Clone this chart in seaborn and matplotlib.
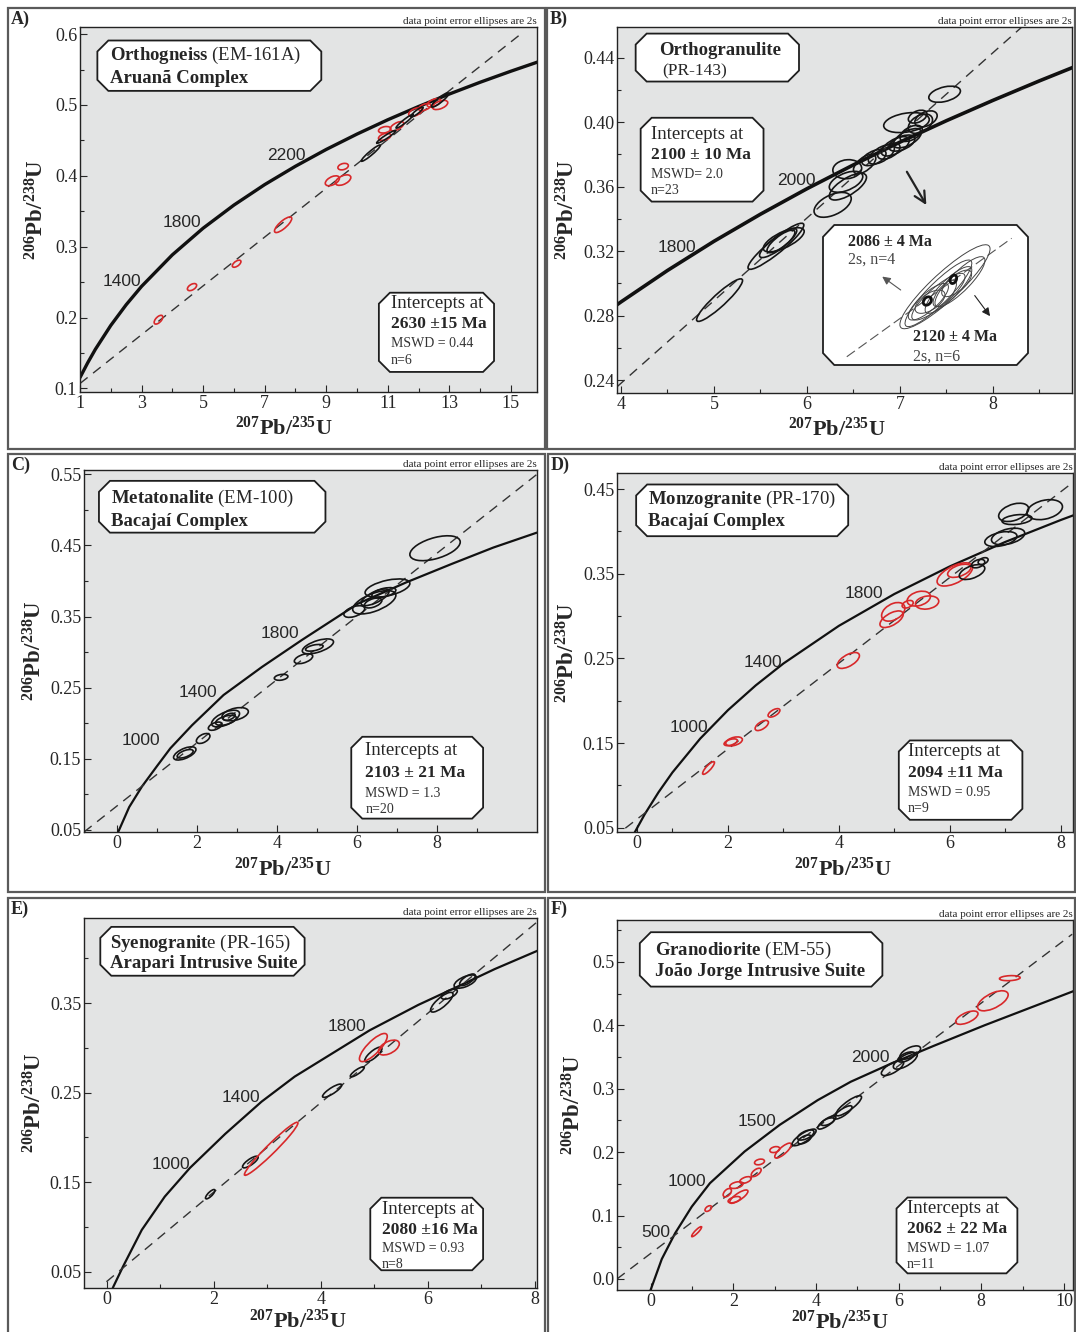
import numpy as np
import matplotlib
matplotlib.use("Agg")
import matplotlib.pyplot as plt
from matplotlib.patches import Ellipse, Polygon, Rectangle
import seaborn as sns

sns.set_theme(style="white")
plt.rcParams["font.family"] = ["Liberation Serif", "DejaVu Serif"]
plt.rcParams["mathtext.fontset"] = "custom"
plt.rcParams["mathtext.rm"] = "Liberation Serif"
plt.rcParams["mathtext.bf"] = "Liberation Serif:bold"
plt.rcParams["mathtext.default"] = "regular"

# =====================
# DATA
# =====================
# concordia curves, one per panel
a_conc_x = [1.0, 1.25, 1.5, 2, 2.5, 3, 4, 5, 6, 7, 8, 9, 10, 11, 12, 13, 14, 15, 16]
a_conc_y = [0.1154, 0.1362, 0.1553, 0.1889, 0.2181, 0.2440, 0.2885, 0.3261, 0.3587, 0.3876,
            0.4135, 0.4372, 0.4589, 0.4791, 0.4978, 0.5154, 0.5320, 0.5476, 0.5625]
b_conc_x = [3.9, 4, 4.5, 5, 5.5, 6, 6.5, 7, 7.5, 8, 8.5, 9]
b_conc_y = [0.2844, 0.2885, 0.3080, 0.3261, 0.3429, 0.3587, 0.3735, 0.3876, 0.4009, 0.4135, 0.4256, 0.4372]
c_conc_x = [0.0, 0.03, 0.3, 0.62, 1.0, 1.33, 1.87, 2.66, 3.62, 4.62, 6.02, 7.23, 8.37, 9.41, 10.5]
c_conc_y = [0.044, 0.0476, 0.082, 0.111, 0.140, 0.1647, 0.197, 0.2396, 0.279, 0.317, 0.368,
            0.398, 0.424, 0.447, 0.468]
d_conc_x = [0.3, 0.5, 0.75, 1, 1.5, 2, 2.5, 3, 4, 5, 6, 7, 8, 8.3]
d_conc_y = [0.0422, 0.0660, 0.0921, 0.1154, 0.1553, 0.1889, 0.2181, 0.2440, 0.2885, 0.3261,
            0.3587, 0.3876, 0.4135, 0.4208]
e_conc_x = [0.08, 0.12, 0.3, 0.65, 1.08, 1.55, 2.21, 2.89, 3.51, 4.91, 5.82, 6.47, 7.25, 8.07]
e_conc_y = [0.028, 0.0336, 0.056, 0.0968, 0.134, 0.166, 0.204, 0.240, 0.268, 0.3196, 0.348,
            0.366, 0.388, 0.409]
f_conc_x = [-0.01, 0.265, 0.586, 0.99, 1.43, 2.27, 3.12, 4.04, 4.84, 5.79, 6.85, 8.08, 10.25]
f_conc_y = [-0.018, 0.0315, 0.072, 0.114, 0.151, 0.201, 0.243, 0.282, 0.311, 0.3388, 0.3676,
            0.400, 0.4543]

# discordia lines (end points)
a_disc_x, a_disc_y = [1.0, 15.35], [0.107, 0.601]
b_disc_x, b_disc_y = [3.96, 8.35], [0.236, 0.461]
c_disc_x, c_disc_y = [-0.83, 10.5], [0.047, 0.550]
d_disc_x, d_disc_y = [0.15, 8.2], [0.0495, 0.457]
e_disc_x, e_disc_y = [-0.01, 8.03], [0.039, 0.44]
f_disc_x, f_disc_y = [-0.82, 10.2], [0.0, 0.5436]

# analyses: x, y, 2s x, 2s y, rho, group ("in" black, "out" red)
a_ell = [(3.55, 0.197, 0.14, 0.0062, 0.6, "out"), (4.64, 0.243, 0.15, 0.005, 0.5, "out"),
         (6.09, 0.276, 0.14, 0.005, 0.6, "out"), (7.6, 0.331, 0.28, 0.011, 0.8, "out"),
         (9.2, 0.393, 0.23, 0.007, 0.5, "out"), (9.55, 0.394, 0.25, 0.0074, 0.5, "out"),
         (9.55, 0.413, 0.17, 0.0046, 0.3, "out"), (10.9, 0.465, 0.2, 0.0046, 0.3, "out"),
         (10.9, 0.455, 0.2, 0.005, 0.4, "out"), (11.3, 0.47, 0.22, 0.0065, 0.6, "out"),
         (11.9, 0.49, 0.22, 0.006, 0.5, "out"), (12.2, 0.497, 0.2, 0.005, 0.5, "out"),
         (12.5, 0.503, 0.22, 0.006, 0.5, "out"), (12.7, 0.5, 0.25, 0.0065, 0.5, "out"),
         (10.45, 0.432, 0.31, 0.0115, 0.95, "in"), (10.95, 0.455, 0.31, 0.009, 0.95, "in"),
         (11.55, 0.477, 0.28, 0.0097, 0.95, "in"), (11.95, 0.49, 0.2, 0.007, 0.9, "in"),
         (12.7, 0.507, 0.28, 0.01, 0.9, "in")]
b_ell = [(5.06, 0.2896, 0.247, 0.0132, 0.92, "in"), (5.666, 0.323, 0.30, 0.0143, 0.92, "in"),
         (5.69, 0.325, 0.2, 0.009, 0.85, "in"), (5.72, 0.326, 0.15, 0.007, 0.8, "in"),
         (5.75, 0.327, 0.22, 0.0075, 0.7, "in"), (6.276, 0.3487, 0.2, 0.0077, 0.5, "in"),
         (6.42, 0.363, 0.18, 0.0065, 0.5, "in"), (6.44, 0.360, 0.2, 0.0083, 0.7, "in"),
         (6.433, 0.3708, 0.155, 0.0059, 0.1, "in"), (6.62, 0.374, 0.12, 0.006, 0.6, "in"),
         (6.72, 0.378, 0.13, 0.005, 0.5, "in"), (6.80, 0.380, 0.14, 0.006, 0.6, "in"),
         (6.88, 0.382, 0.12, 0.005, 0.5, "in"), (6.95, 0.385, 0.15, 0.006, 0.6, "in"),
         (7.02, 0.387, 0.14, 0.005, 0.5, "in"), (7.08, 0.390, 0.15, 0.006, 0.6, "in"),
         (7.12, 0.393, 0.12, 0.005, 0.5, "in"), (7.07, 0.3997, 0.245, 0.0062, 0.3, "in"),
         (7.22, 0.399, 0.13, 0.006, 0.4, "in"), (7.19, 0.4034, 0.1, 0.004, 0.4, "in"),
         (7.28, 0.402, 0.12, 0.005, 0.4, "in"), (7.48, 0.4173, 0.17, 0.005, 0.4, "in")]
c_ell = [(7.95, 0.446, 0.63, 0.0175, 0.5, "in"), (6.76, 0.390, 0.56, 0.0128, 0.5, "in"),
         (6.43, 0.370, 0.54, 0.0164, 0.6, "in"), (5.93, 0.357, 0.26, 0.0082, 0.5, "in"),
         (6.45, 0.377, 0.35, 0.0117, 0.7, "in"), (6.67, 0.3836, 0.3, 0.007, 0.5, "in"),
         (6.4, 0.369, 0.22, 0.007, 0.5, "in"), (5.02, 0.308, 0.39, 0.0105, 0.6, "in"),
         (4.93, 0.306, 0.22, 0.0047, 0.5, "in"), (4.66, 0.2907, 0.23, 0.007, 0.5, "in"),
         (4.1, 0.2645, 0.17, 0.0042, 0.3, "in"), (2.71, 0.2065, 0.35, 0.0117, 0.6, "in"),
         (2.95, 0.2126, 0.33, 0.0093, 0.4, "in"), (2.72, 0.204, 0.26, 0.007, 0.5, "in"),
         (2.8, 0.209, 0.15, 0.005, 0.5, "in"), (2.45, 0.1958, 0.17, 0.0058, 0.5, "in"),
         (2.15, 0.1785, 0.17, 0.007, 0.5, "in"), (1.69, 0.1575, 0.28, 0.0093, 0.6, "in"),
         (1.7, 0.157, 0.2, 0.006, 0.6, "in")]
d_ell = [(1.65, 0.1206, 0.107, 0.0075, 0.85, "out"), (2.11, 0.152, 0.15, 0.0053, 0.4, "out"),
         (2.05, 0.151, 0.12, 0.004, 0.5, "out"), (2.61, 0.1708, 0.12, 0.006, 0.6, "out"),
         (2.83, 0.1857, 0.107, 0.005, 0.6, "out"), (4.17, 0.2476, 0.2, 0.0094, 0.6, "out"),
         (4.95, 0.2963, 0.21, 0.0098, 0.6, "out"), (4.98, 0.305, 0.21, 0.011, 0.4, "out"),
         (5.24, 0.314, 0.1, 0.0045, 0.4, "out"), (5.44, 0.3206, 0.21, 0.0088, 0.3, "out"),
         (5.59, 0.316, 0.21, 0.0078, 0.2, "out"), (6.09, 0.3492, 0.32, 0.0137, 0.6, "out"),
         (6.17, 0.3535, 0.21, 0.0078, 0.5, "out"), (6.4, 0.352, 0.23, 0.0088, 0.5, "in"),
         (6.51, 0.362, 0.12, 0.005, 0.4, "in"), (6.6, 0.365, 0.09, 0.004, 0.4, "in"),
         (6.92, 0.391, 0.29, 0.0088, 0.4, "in"), (7.05, 0.394, 0.3, 0.0098, 0.4, "in"),
         (7.21, 0.414, 0.27, 0.0059, 0.3, "in"), (7.15, 0.4225, 0.27, 0.0108, 0.4, "in"),
         (7.71, 0.4257, 0.32, 0.0118, 0.3, "in")]
e_ell = [(1.93, 0.1367, 0.088, 0.0052, 0.8, "in"), (2.68, 0.1726, 0.146, 0.0065, 0.8, "in"),
         (4.21, 0.2522, 0.18, 0.0074, 0.85, "in"), (4.68, 0.2733, 0.13, 0.0056, 0.85, "in"),
         (4.98, 0.2926, 0.16, 0.0083, 0.8, "in"), (6.26, 0.351, 0.21, 0.011, 0.8, "in"),
         (6.4, 0.36, 0.15, 0.0056, 0.6, "in"), (6.74, 0.376, 0.146, 0.0065, 0.7, "in"),
         (6.7, 0.374, 0.21, 0.0074, 0.6, "in"), (3.07, 0.1874, 0.5, 0.0296, 0.97, "out"),
         (4.98, 0.3004, 0.26, 0.0157, 0.8, "out"), (5.27, 0.3004, 0.195, 0.0083, 0.5, "out")]
f_ell = [(1.108, 0.0746, 0.12, 0.0079, 0.9, "out"), (1.39, 0.111, 0.08, 0.0045, 0.5, "out"),
         (1.85, 0.136, 0.1, 0.0066, 0.5, "out"), (2.07, 0.148, 0.16, 0.0053, 0.4, "out"),
         (2.13, 0.1298, 0.22, 0.0105, 0.8, "out"), (2.02, 0.125, 0.15, 0.005, 0.5, "out"),
         (2.29, 0.156, 0.14, 0.0053, 0.5, "out"), (2.55, 0.168, 0.12, 0.0066, 0.6, "out"),
         (2.63, 0.1845, 0.12, 0.0045, 0.3, "out"), (3.0, 0.204, 0.12, 0.0047, 0.3, "out"),
         (3.2, 0.2024, 0.2, 0.0118, 0.8, "out"), (3.71, 0.2232, 0.29, 0.0131, 0.8, "in"),
         (3.75, 0.227, 0.2, 0.008, 0.6, "in"), (3.72, 0.22, 0.16, 0.007, 0.6, "in"),
         (4.26, 0.2468, 0.22, 0.0105, 0.8, "in"), (4.28, 0.248, 0.16, 0.006, 0.6, "in"),
         (4.65, 0.2626, 0.22, 0.0105, 0.8, "in"), (4.79, 0.2731, 0.31, 0.0158, 0.85, "in"),
         (5.85, 0.3325, 0.27, 0.0118, 0.7, "in"), (6.16, 0.344, 0.29, 0.0131, 0.7, "in"),
         (6.28, 0.357, 0.25, 0.0105, 0.6, "in"), (6.18, 0.35, 0.2, 0.008, 0.6, "in"),
         (7.65, 0.412, 0.27, 0.0105, 0.6, "out"), (8.28, 0.4386, 0.37, 0.0158, 0.6, "out"),
         (8.69, 0.4743, 0.25, 0.004, 0.2, "out")]

# B inset (zoomed cluster, inset units)
inset_ell = [(0.595, 0.559, 0.22, 0.30, 0.9), (0.563, 0.512, 0.163, 0.238, 0.9),
             (0.563, 0.488, 0.13, 0.167, 0.85), (0.612, 0.536, 0.114, 0.167, 0.85),
             (0.514, 0.452, 0.098, 0.131, 0.8), (0.652, 0.583, 0.073, 0.095, 0.7),
             (0.522, 0.452, 0.073, 0.083, 0.6), (0.594, 0.512, 0.057, 0.095, 0.7),
             (0.668, 0.595, 0.122, 0.179, 0.85)]
inset_mean = [(0.509, 0.457, 0.02, 0.03, 0.3), (0.636, 0.612, 0.016, 0.03, 0.3)]
inset_disc_x, inset_disc_y = [0.116, 0.92], [0.059, 0.905]

# concordia age labels (age, x, y of label end)
a_ages = [(1400, 2.98, 0.251), (1800, 4.94, 0.334), (2200, 8.33, 0.429)]
b_ages = [(1800, 4.81, 0.322), (2000, 6.09, 0.364)]
c_ages = [(1000, 1.08, 0.175), (1400, 2.5, 0.243), (1800, 4.55, 0.326)]
d_ages = [(1000, 1.65, 0.1687), (1400, 2.97, 0.2454), (1800, 4.80, 0.327)]
e_ages = [(1000, 1.55, 0.1704), (1400, 2.86, 0.2445), (1800, 4.85, 0.3244)]
f_ages = [(500, 0.465, 0.0733), (1000, 1.35, 0.1535), (1500, 3.04, 0.248), (2000, 5.79, 0.349)]

# tick labels
a_xticks = [1, 3, 5, 7, 9, 11, 13, 15]
a_yticks = [0.1, 0.2, 0.3, 0.4, 0.5, 0.6]
b_xticks = [4, 5, 6, 7, 8]
b_yticks = [0.24, 0.28, 0.32, 0.36, 0.40, 0.44]
c_xticks = [0, 2, 4, 6, 8]
c_yticks = [0.05, 0.15, 0.25, 0.35, 0.45, 0.55]
d_xticks = [0.36, 2, 4, 6, 8]
d_xlabels = ["0", "2", "4", "6", "8"]
d_yticks = [0.05, 0.15, 0.25, 0.35, 0.45]
e_xticks = [0, 2, 4, 6, 8]
e_yticks = [0.05, 0.15, 0.25, 0.35]
f_xticks = [0, 2, 4, 6, 8, 10]
f_yticks = [0.0, 0.1, 0.2, 0.3, 0.4, 0.5]

# sample texts
a_title = [r"$\mathbf{Orthogneiss}$ (EM-161A)", "Aruanã Complex"]
c_title = [r"$\mathbf{Metatonalite}$ (EM-100)", "Bacajaí Complex"]
d_title = [r"$\mathbf{Monzogranite}$ (PR-170)", "Bacajaí Complex"]
e_title = [r"$\mathbf{Syenogranit}$e (PR-165)", "Arapari Intrusive Suite"]
f_title = [r"$\mathbf{Granodiorite}$ (EM-55)", "João Jorge Intrusive Suite"]
a_result = ["2630 ±15 Ma", "MSWD = 0.44", "n=6"]
b_result = ["2100 ± 10 Ma", "MSWD= 2.0", "n=23"]
c_result = ["2103 ± 21 Ma", "MSWD = 1.3", "n=20"]
d_result = ["2094 ±11 Ma", "MSWD = 0.95", "n=9"]
e_result = ["2080 ±16 Ma", "MSWD = 0.93", "n=8"]
f_result = ["2062 ± 22 Ma", "MSWD = 1.07", "n=11"]

# =====================
# FIGURE
# =====================
W, H = 1076, 1332
fig = plt.figure(figsize=(W / 100, H / 100), dpi=100)
colors = {"in": "#151515", "out": "#d8282a"}
xlab = r"$^{207}$Pb/$^{235}$U"
ylab = r"$^{206}$Pb/$^{238}$U"


def px_axes(l, t, r, b):
    return fig.add_axes([l / W, 1 - b / H, (r - l) / W, (b - t) / H])


def frame(x0, y0, x1, y1, label):
    fig.add_artist(Rectangle((x0 / W, 1 - y1 / H), (x1 - x0) / W, (y1 - y0) / H,
                             transform=fig.transFigure, fill=False, ec="#5a5a5a", lw=1.6))
    fig.text((x0 + 3) / W, 1 - (y0 + 11) / H, label, fontsize=13, fontweight="bold",
             ha="left", va="center")


def ellipse(ax, x, y, sx, sy, rho, color, lw=1.2, **kw):
    cov = np.array([[sx * sx, rho * sx * sy], [rho * sx * sy, sy * sy]])
    vals, vecs = np.linalg.eigh(cov)
    ang = np.degrees(np.arctan2(vecs[1, 1], vecs[0, 1]))
    ax.add_patch(Ellipse((x, y), 2 * np.sqrt(vals[1]), 2 * np.sqrt(vals[0]), angle=ang,
                         fill=False, ec=color, lw=lw, zorder=3, **kw))


def octbox(ax, x0, y0, x1, y1, cut=11):
    pos = ax.get_position()
    cx, cy = cut / (pos.width * W), cut / (pos.height * H)
    pts = [(x0 + cx, y0), (x1 - cx, y0), (x1, y0 + cy), (x1, y1 - cy),
           (x1 - cx, y1), (x0 + cx, y1), (x0, y1 - cy), (x0, y0 + cy)]
    ax.add_patch(Polygon(pts, closed=True, transform=ax.transAxes, fc="white",
                         ec="#1e1e1e", lw=1.3, zorder=6, clip_on=False))


def panel(ax, xlim, ylim, cx, cy, clw, dx, dy, ells, ages, xt, yt, xminor, yminor,
          xlab_pos, ylab_pos, xlabels=None, yfmt="{:.1f}"):
    ax.set_facecolor("#e3e4e4")
    sns.lineplot(x=cx, y=cy, ax=ax, color="#111111", lw=clw, sort=False, estimator=None,
                 zorder=2)
    sns.lineplot(x=dx, y=dy, ax=ax, color="#333333", lw=1.0, sort=False, estimator=None,
                 linestyle=(0, (7, 5)), zorder=2)
    for x, y, sx, sy, rho, grp in ells:
        ellipse(ax, x, y, sx, sy, rho, colors[grp])
    for age, x, y in ages:
        ax.text(x, y, str(age), ha="right", va="center", fontsize=12.5,
                family="Liberation Sans", zorder=4)
    ax.set_xlim(*xlim)
    ax.set_ylim(*ylim)
    ax.set_xticks(xt)
    ax.set_xticklabels(xlabels if xlabels else [str(v) for v in xt])
    ax.set_xticks(xminor, minor=True)
    ax.set_yticks(yt)
    ax.set_yticklabels([yfmt.format(v) for v in yt])
    ax.set_yticks(yminor, minor=True)
    ax.tick_params(which="major", direction="in", length=5, width=0.8, labelsize=13,
                   left=True, bottom=True, pad=2)
    ax.tick_params(which="minor", direction="in", length=3, width=0.8, left=True, bottom=True)
    for s in ax.spines.values():
        s.set_color("#222222")
        s.set_linewidth(1.0)
    ax.set_xlabel(xlab, fontsize=16, fontweight="bold")
    ax.set_ylabel(ylab, fontsize=16.5, fontweight="bold")
    ax.xaxis.set_label_coords(*xlab_pos)
    ax.yaxis.set_label_coords(*ylab_pos)
    ax.text(1.0, 1.004, "data point error ellipses are 2s", transform=ax.transAxes,
            ha="right", va="bottom", fontsize=8)


def title_box(ax, box, lines, x, ys):
    octbox(ax, *box)
    for line, y in zip(lines, ys):
        ax.text(x, y, line, transform=ax.transAxes, fontsize=13.5, fontweight="bold"
                if not line.startswith("$") else "normal", ha="left", va="center", zorder=7)


def result_box(ax, box, lines, x, ys):
    octbox(ax, *box)
    ax.text(x, ys[0], "Intercepts at", transform=ax.transAxes, fontsize=13.5,
            ha="left", va="center", zorder=7)
    ax.text(x, ys[1], lines[0], transform=ax.transAxes, fontsize=12.5, fontweight="bold",
            ha="left", va="center", zorder=7)
    ax.text(x, ys[2], lines[1], transform=ax.transAxes, fontsize=10, color="#333333",
            ha="left", va="center", zorder=7)
    ax.text(x, ys[3], lines[2], transform=ax.transAxes, fontsize=10, color="#333333",
            ha="left", va="center", zorder=7)


# panel frames
frame(8, 8, 545, 449, "A)")
frame(547, 8, 1075, 449, "B)")
frame(8, 454, 545, 892, "C)")
frame(548, 454, 1075, 892, "D)")
frame(8, 898, 545, 1345, "E)")
frame(548, 898, 1075, 1345, "F)")

# ---- A
ax = px_axes(80, 27, 537, 392)
panel(ax, (1.0, 15.85), (0.095, 0.61), a_conc_x, a_conc_y, 2.4, a_disc_x, a_disc_y,
      a_ell, a_ages, a_xticks, a_yticks, [2, 4, 6, 8, 10, 12, 14],
      [0.15, 0.25, 0.35, 0.45, 0.55], (0.446, -0.068), (-0.068, 0.5))
title_box(ax, (0.038, 0.825, 0.528, 0.963), a_title, 0.065, [0.922, 0.860])
result_box(ax, (0.654, 0.055, 0.906, 0.272), a_result, 0.680, [0.242, 0.185, 0.132, 0.085])

# ---- B
ax = px_axes(617, 27, 1072, 393)
panel(ax, (3.957, 8.85), (0.232, 0.459), b_conc_x, b_conc_y, 2.6, b_disc_x, b_disc_y,
      b_ell, b_ages, b_xticks, b_yticks, [4.5, 5.5, 6.5, 7.5, 8.5],
      [0.26, 0.30, 0.34, 0.38, 0.42], (0.483, -0.068), (-0.082, 0.5), yfmt="{:.2f}")
octbox(ax, 0.041, 0.851, 0.40, 0.982)
ax.text(0.226, 0.936, "Orthogranulite", transform=ax.transAxes, fontsize=13.5,
        fontweight="bold", ha="center", va="center", zorder=7)
ax.text(0.17, 0.879, "(PR-143)", transform=ax.transAxes, fontsize=12.5,
        ha="center", va="center", zorder=7)
result_box(ax, (0.052, 0.523, 0.322, 0.752), b_result, 0.074, [0.706, 0.649, 0.596, 0.552])
ax.annotate("", xy=(0.683, 0.507), xytext=(0.634, 0.611), xycoords="axes fraction",
            arrowprops=dict(arrowstyle="->", lw=1.6, color="#222222", mutation_scale=20))

ins = fig.add_axes([823 / W, 1 - 365 / H, 205 / W, 140 / H])
ins.set_zorder(5)
ins.axis("off")
pts = [(0.055, 0), (0.945, 0), (1, 0.085), (1, 0.915), (0.945, 1), (0.055, 1), (0, 0.915), (0, 0.085)]
ins.add_patch(Polygon(pts, closed=True, transform=ins.transAxes, fc="white", ec="#1e1e1e",
                      lw=1.3, zorder=0, clip_on=False))
sns.lineplot(x=inset_disc_x, y=inset_disc_y, ax=ins, color="#555555", lw=0.8, sort=False,
             estimator=None, linestyle=(0, (9, 4)))
for x, y, sx, sy, rho in inset_ell:
    ellipse(ins, x, y, sx, sy, rho, "#444444", lw=0.7)
for x, y, sx, sy, rho in inset_mean:
    ellipse(ins, x, y, sx, sy, rho, "#111111", lw=2.0)
ins.set_xlim(0, 1)
ins.set_ylim(0, 1)
ins.annotate("", xy=(0.278, 0.643), xytext=(0.39, 0.524), xycoords="axes fraction",
             arrowprops=dict(arrowstyle="-|>", lw=0.8, color="#555555", mutation_scale=12))
ins.annotate("", xy=(0.823, 0.333), xytext=(0.732, 0.512), xycoords="axes fraction",
             arrowprops=dict(arrowstyle="-|>", lw=0.8, color="#222222", mutation_scale=12))
ins.text(0.122, 0.88, "2086 ± 4 Ma", transform=ins.transAxes, fontsize=11.5,
         fontweight="bold", ha="left", va="center")
ins.text(0.122, 0.75, "2s, n=4", transform=ins.transAxes, fontsize=11.5, color="#444444",
         ha="left", va="center")
ins.text(0.44, 0.20, "2120 ± 4 Ma", transform=ins.transAxes, fontsize=11.5,
         fontweight="bold", ha="left", va="center")
ins.text(0.44, 0.06, "2s, n=6", transform=ins.transAxes, fontsize=11.5, color="#444444",
         ha="left", va="center")

# ---- C
ax = px_axes(84, 470, 537, 832)
panel(ax, (-0.83, 10.5), (0.047, 0.556), c_conc_x, c_conc_y, 1.6, c_disc_x, c_disc_y,
      c_ell, c_ages, c_xticks, c_yticks, [1, 3, 5, 7, 9],
      [0.10, 0.20, 0.30, 0.40, 0.50], (0.44, -0.072), (-0.082, 0.5), yfmt="{:.2f}")
title_box(ax, (0.033, 0.827, 0.533, 0.970), c_title, 0.060, [0.921, 0.859])
result_box(ax, (0.590, 0.037, 0.881, 0.263), c_result, 0.621, [0.224, 0.164, 0.107, 0.063])

# ---- D
ax = px_axes(617, 473, 1073, 832)
panel(ax, (0.0, 8.22), (0.045, 0.469), d_conc_x, d_conc_y, 1.6, d_disc_x, d_disc_y,
      d_ell, d_ages, d_xticks, d_yticks, [1, 3, 5, 7],
      [0.10, 0.20, 0.30, 0.40], (0.496, -0.072), (-0.082, 0.5), xlabels=d_xlabels,
      yfmt="{:.2f}")
title_box(ax, (0.042, 0.824, 0.507, 0.968), d_title, 0.0675, [0.926, 0.866])
result_box(ax, (0.618, 0.034, 0.889, 0.255), d_result, 0.638, [0.223, 0.164, 0.111, 0.065])

# ---- E
ax = px_axes(84, 918, 537, 1288)
panel(ax, (-0.43, 8.04), (0.032, 0.445), e_conc_x, e_conc_y, 1.6, e_disc_x, e_disc_y,
      e_ell, e_ages, e_xticks, e_yticks, [1, 3, 5, 7],
      [0.10, 0.20, 0.30, 0.40], (0.472, -0.058), (-0.082, 0.5), yfmt="{:.2f}")
title_box(ax, (0.036, 0.844, 0.487, 0.976), e_title, 0.057, [0.932, 0.878])
result_box(ax, (0.632, 0.048, 0.881, 0.244), e_result, 0.657, [0.213, 0.158, 0.108, 0.063])

# ---- F
ax = px_axes(617, 920, 1073, 1290)
panel(ax, (-0.82, 10.22), (-0.0174, 0.566), f_conc_x, f_conc_y, 1.6, f_disc_x, f_disc_y,
      f_ell, f_ages, f_xticks, f_yticks, [1, 3, 5, 7, 9],
      [0.05, 0.15, 0.25, 0.35, 0.45, 0.55], (0.489, -0.056), (-0.07, 0.5))
title_box(ax, (0.050, 0.820, 0.582, 0.967), f_title, 0.083, [0.919, 0.860])
result_box(ax, (0.613, 0.045, 0.878, 0.250), f_result, 0.635, [0.221, 0.164, 0.113, 0.068])

fig.savefig("out.png", dpi=100, facecolor="white")
